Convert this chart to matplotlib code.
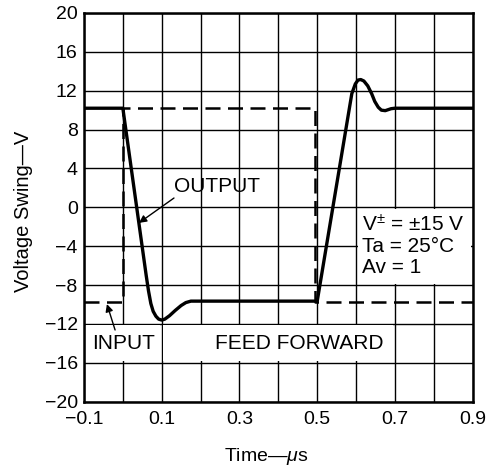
import matplotlib
matplotlib.use("Agg")
import matplotlib.pyplot as plt
from matplotlib.patches import Rectangle

plt.rcParams['font.family'] = ['Liberation Sans', 'DejaVu Sans']
plt.rcParams['mathtext.fontset'] = 'custom'
plt.rcParams['mathtext.rm'] = 'Liberation Sans'
plt.rcParams['mathtext.it'] = 'Liberation Sans:italic'

# Output waveform (solid)
output_t = [-0.1, 0.0, 0.06, 0.066, 0.072, 0.078, 0.085, 0.092, 0.1, 0.108,
            0.12, 0.135, 0.15, 0.162, 0.175, 0.5, 0.589, 0.598, 0.605, 0.612,
            0.62, 0.63, 0.64, 0.648, 0.657, 0.665, 0.675, 0.69, 0.7, 0.9]
output_v = [10.2, 10.2, -7.0, -8.6, -9.9, -10.7, -11.2, -11.5, -11.6, -11.5,
            -11.15, -10.6, -10.1, -9.8, -9.65, -9.65, 11.7, 12.7, 13.1, 13.15,
            13.0, 12.5, 11.7, 10.9, 10.3, 10.0, 9.95, 10.15, 10.2, 10.2]

# Input waveform (dashed)
input_t = [-0.1, 0.0, 0.0, 0.495, 0.495, 0.9]
input_v = [-9.7, -9.7, 10.2, 10.2, -9.7, -9.7]

x_grid = [i / 10 for i in range(-1, 10)]
x_ticks = [-0.1, 0.1, 0.3, 0.5, 0.7, 0.9]
y_ticks = [20, 16, 12, 8, 4, 0, -4, -8, -12, -16, -20]
cond_lines = ["V$^{\\pm}$ = \u00b115 V", "Ta = 25\u00b0C", "Av = 1"]

fig = plt.figure(figsize=(4.92, 4.67), dpi=100)
ax = fig.add_axes([0.1707, 0.1398, 0.7901, 0.8324])

ax.set_xlim(-0.1, 0.9)
ax.set_ylim(-20, 20)
ax.set_xticks(x_grid)
ax.set_xticklabels([f"{t:.1f}".replace("-", "\u2212") if round(t, 1) in x_ticks else ""
                    for t in x_grid])
ax.set_yticks(y_ticks)
ax.set_yticklabels([str(v).replace("-", "\u2212") for v in y_ticks])
ax.tick_params(length=0, labelsize=14)
ax.tick_params(axis='x', pad=7)
ax.tick_params(axis='y', pad=4.5)
ax.grid(True, color='black', linewidth=1.0)
ax.set_axisbelow(True)
for s in ax.spines.values():
    s.set_linewidth(1.8)

# white label boxes that hide the grid
for (x0, x1, y0, y1) in [(-0.1, 0.1, -16, -12), (0.1, 0.7, -16, -12), (0.6, 0.9, -8, 0)]:
    ax.add_patch(Rectangle((x0 + 0.004, y0 + 0.15), x1 - x0 - 0.008, y1 - y0 - 0.3,
                           facecolor='white', edgecolor='none', zorder=1))

ax.plot(input_t, input_v, color='black', linewidth=1.8, linestyle=(0, (6, 3)), zorder=2)
ax.plot(output_t, output_v, color='black', linewidth=2.4, solid_joinstyle='round', zorder=3)

ax.text(0.242, 2.1, "OUTPUT", fontsize=15, ha='center', va='center', zorder=4)
ax.annotate("", xy=(0.0415, -1.6), xytext=(0.1315, 0.96),
            arrowprops=dict(arrowstyle='-|>', color='black', lw=1.0,
                            shrinkA=0, shrinkB=0, mutation_scale=11))
ax.text(0.0016, -14.0, "INPUT", fontsize=15, ha='center', va='center', zorder=4)
ax.annotate("", xy=(-0.041, -9.95), xytext=(-0.02, -12.62),
            arrowprops=dict(arrowstyle='-|>', color='black', lw=1.0,
                            shrinkA=0, shrinkB=0, mutation_scale=11), zorder=4)
ax.text(0.454, -14.0, "FEED FORWARD", fontsize=15, ha='center', va='center', zorder=4)

for i, line in enumerate(cond_lines):
    ax.text(0.614, -1.8 - 2.2 * i, line, fontsize=15, ha='left', va='center', zorder=4)

ax.set_xlabel("Time\u2014$\\mu$s", fontsize=14)
ax.set_ylabel("Voltage Swing\u2014V", fontsize=14.5)
ax.xaxis.label.set_va('baseline')
ax.xaxis.set_label_coords(0.468, -0.153)
ax.yaxis.set_label_coords(-0.131, 0.49)

fig.savefig("out.png", dpi=100)
